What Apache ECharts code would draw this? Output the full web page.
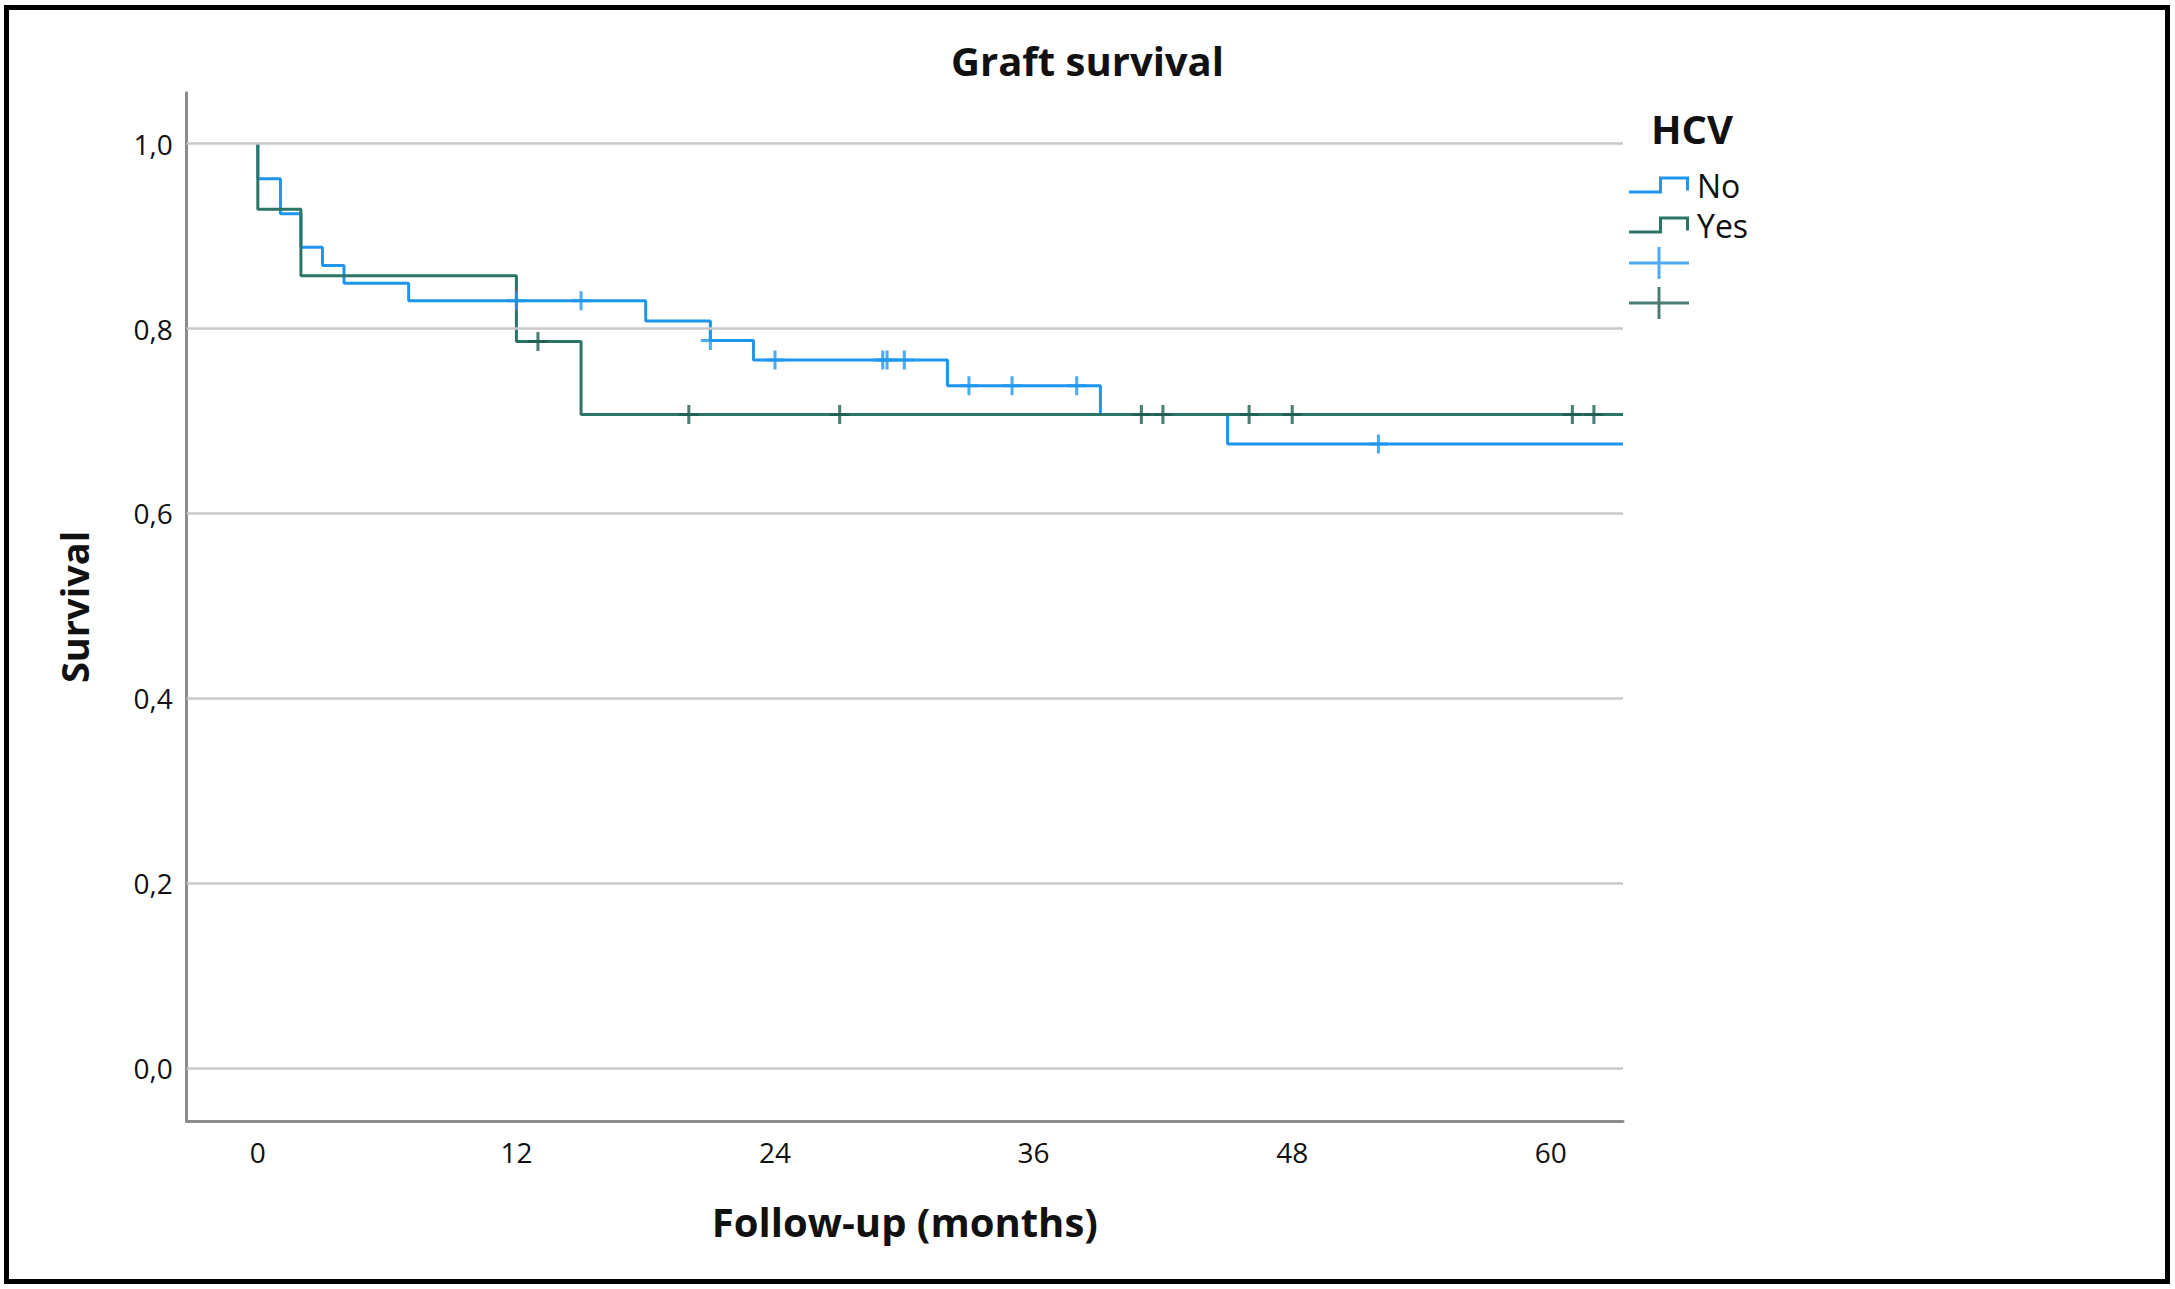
<!DOCTYPE html>
<html>
<head>
<meta charset="utf-8">
<script src="https://cdn.jsdelivr.net/npm/echarts@6/dist/echarts.min.js"></script>
<style>
html,body{margin:0;padding:0;background:#fff;}
#chart{width:2175px;height:1289px;}
</style>
</head>
<body>
<div id="chart"></div>
<script>
// ---- data ----
const xTicks = [0, 12, 24, 36, 48, 60];
const xTickLabels = ['0', '12', '24', '36', '48', '60'];
const yTicks = [0, 0.2, 0.4, 0.6, 0.8, 1.0];
const yTickLabels = ['0,0', '0,2', '0,4', '0,6', '0,8', '1,0'];

// HCV = No
const noEventTimes = [0, 1.05, 2, 3, 4, 7, 18, 21, 23, 32, 39.1, 45];
const noSurvival   = [0.962, 0.924, 0.888, 0.868, 0.849, 0.830, 0.808, 0.787, 0.766, 0.738, 0.707, 0.675];
const noCensored   = [12, 15, 21, 24, 29, 29.2, 30, 33, 35, 38, 52];
const noFollowEnd  = 63.35;

// HCV = Yes
const yesEventTimes = [0, 2, 12, 15];
const yesSurvival   = [0.929, 0.857, 0.786, 0.707];
const yesCensored   = [13, 20, 27, 41, 42, 46, 48, 61, 62];
const yesFollowEnd  = 63.35;

// ---- helpers ----
function curve(times, surv, end) {
  const pts = [[0, 1]];
  times.forEach((t, i) => pts.push([t, surv[i]]));
  pts.push([end, surv[surv.length - 1]]);
  return pts;
}
function survAt(times, surv, t) {
  let s = 1;
  times.forEach((et, i) => { if (et <= t) s = surv[i]; });
  return s;
}
function censorPts(times, surv, cens) {
  return cens.map(t => [t, survAt(times, surv, t)]);
}
function labelFor(ticks, labels, v) {
  let best = 0;
  ticks.forEach((t, i) => { if (Math.abs(t - v) < Math.abs(ticks[best] - v)) best = i; });
  return labels[best];
}

const BLUE = '#1E96F0';
const GREEN = '#2C7566';
const GREEN_DARK = '#1F5C50';
const FONT = 'Open Sans';

const plusPath = 'path://M-1.6,-10 L1.6,-10 L1.6,-1.6 L10,-1.6 L10,1.6 L1.6,1.6 L1.6,10 L-1.6,10 L-1.6,1.6 L-10,1.6 L-10,-1.6 L-1.6,-1.6 Z';
const stepIcon = 'path://M0,14 L30,14 L30,0 L60,0 L60,14 L57,14 L57,3 L33,3 L33,17 L0,17 Z';
const plusIcon = 'path://M0,14.5 L28.5,14.5 L28.5,0 L31.5,0 L31.5,14.5 L60,14.5 L60,17.5 L31.5,17.5 L31.5,32 L28.5,32 L28.5,17.5 L0,17.5 Z';

const chart = echarts.init(document.getElementById('chart'), null, {renderer: 'svg'});
chart.setOption({
  animation: false,
  backgroundColor: '#fff',
  textStyle: {fontFamily: FONT},
  title: [
    {text: 'Graft survival', left: 'center', top: 38, padding: 0,
     textStyle: {fontSize: 40, fontWeight: 'bold', color: '#111', fontFamily: FONT, lineHeight: 44}},
    {text: 'HCV', left: 1651, top: 106, padding: 0,
     textStyle: {fontSize: 40, fontWeight: 'bold', color: '#111', fontFamily: FONT, lineHeight: 44}}
  ],
  graphic: [
    {type: 'rect', shape: {x: 6.5, y: 7.5, width: 2161, height: 1274},
     style: {fill: 'none', stroke: '#000', lineWidth: 5}, silent: true, z: 100}
  ],
  legend: [
    {data: [{name: 'No', icon: stepIcon}, {name: 'Yes', icon: stepIcon}],
     orient: 'vertical', left: 1629, top: 168, itemWidth: 60, itemHeight: 17, itemGap: 6,
     selectedMode: false, padding: 0, symbolKeepAspect: false,
     itemStyle: {borderWidth: 0},
     textStyle: {fontSize: 32, color: '#111', fontFamily: FONT, lineHeight: 34, padding: [0, 0, 0, 3]}},
    {data: [{name: 'No censored', icon: plusIcon}, {name: 'Yes censored', icon: plusIcon}],
     orient: 'vertical', left: 1629, top: 247, itemWidth: 60, itemHeight: 32, itemGap: 8,
     selectedMode: false, padding: 0, symbolKeepAspect: false,
     itemStyle: {borderWidth: 0},
     formatter: () => '',
     textStyle: {fontSize: 20}}
  ],
  grid: {left: 186.7, top: 92.7, width: 1436.3, height: 1028.3, containLabel: false},
  xAxis: {
    type: 'value', min: -3.3, max: 63.35,
    axisLine: {show: true, onZero: false, lineStyle: {color: '#8c8c8c', width: 3}},
    axisTick: {show: false, customValues: xTicks},
    splitLine: {show: false},
    axisLabel: {customValues: xTicks, formatter: v => labelFor(xTicks, xTickLabels, v),
                fontSize: 28, color: '#111', margin: 17, fontFamily: FONT},
    name: 'Follow-up (months)', nameLocation: 'middle', nameGap: 80,
    nameTextStyle: {fontSize: 40, fontWeight: 'bold', color: '#111', fontFamily: FONT}
  },
  yAxis: {
    type: 'value', min: -0.057, max: 1.055,
    axisLine: {show: true, onZero: false, lineStyle: {color: '#8c8c8c', width: 3}},
    axisTick: {show: false, customValues: yTicks},
    splitLine: {show: false},
    axisLabel: {customValues: yTicks, formatter: v => labelFor(yTicks, yTickLabels, v),
                fontSize: 28, color: '#111', margin: 14, fontFamily: FONT},
    name: 'Survival', nameLocation: 'middle', nameGap: 94, nameRotate: 90,
    nameTextStyle: {fontSize: 38, fontWeight: 'bold', color: '#111', fontFamily: FONT}
  },
  series: [
    {name: 'gridlines', type: 'line', data: [], z: 1, silent: true,
     markLine: {silent: true, symbol: ['none', 'none'], label: {show: false},
                lineStyle: {color: '#c8c8c8', width: 2.5, type: 'solid'},
                emphasis: {disabled: true},
                data: yTicks.map(v => ({yAxis: v}))}},
    {name: 'No', type: 'line', step: 'end', color: BLUE, showSymbol: false, symbol: 'none',
     lineStyle: {color: BLUE, width: 3}, data: curve(noEventTimes, noSurvival, noFollowEnd), z: 3},
    {name: 'Yes', type: 'line', step: 'end', color: GREEN, showSymbol: false, symbol: 'none',
     lineStyle: {color: GREEN, width: 3}, data: curve(yesEventTimes, yesSurvival, yesFollowEnd), z: 4},
    {name: 'No censored', type: 'scatter', color: BLUE, symbol: plusPath, symbolSize: [19, 19],
     itemStyle: {color: BLUE}, data: censorPts(noEventTimes, noSurvival, noCensored), z: 5},
    {name: 'Yes censored', type: 'scatter', color: GREEN_DARK, symbol: plusPath, symbolSize: [19, 19],
     itemStyle: {color: GREEN_DARK}, data: censorPts(yesEventTimes, yesSurvival, yesCensored), z: 6}
  ]
});
</script>
</body>
</html>
